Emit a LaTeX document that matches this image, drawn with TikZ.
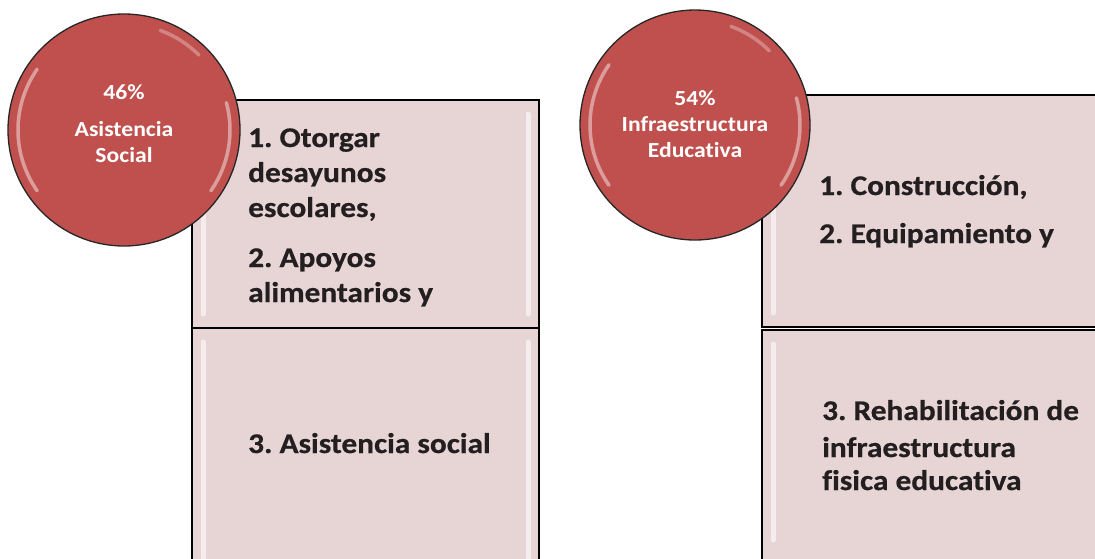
\documentclass[tikz,border=0pt]{standalone}
\usepackage{fontspec}
\setmainfont{Carlito}[BoldFont={Carlito Bold}, Ligatures=NoCommon, FakeStretch=1.1]
\frenchspacing
\definecolor{boxfill}{RGB}{231,212,212}
\definecolor{circfill}{RGB}{192,80,77}
\definecolor{txt}{RGB}{35,31,32}
\tikzset{
  panel/.style={draw=black, line width=1.3pt, fill=boxfill, rectangle, anchor=north west, inner sep=0pt, outer sep=0pt},
  bevel/.style={white, opacity=.6, line width=5pt, line cap=round},
  disc/.style={circle, draw=black!85, line width=1.3pt, fill=circfill, inner sep=0pt},
  gloss/.style={white, opacity=.45, line width=3.5pt, line cap=round},
  boxtext/.style={font=\bfseries\fontsize{28.5}{34}\selectfont\addfontfeature{FakeBold=0.6}, text=txt, anchor=base west, inner sep=0pt},
  disctext/.style={font=\bfseries\fontsize{21.5}{26}\selectfont, text=white, anchor=base, inner sep=0pt}
}
\begin{document}
\begin{tikzpicture}[x=1pt,y=-1pt]
\useasboundingbox (0,0) rectangle (1095,558);
\clip (0,0) rectangle (1095,558);
% panels
\node[panel, minimum width=347pt, minimum height=228pt] (b1) at (192,100) {};
\node[panel, minimum width=347pt, minimum height=250pt] (b2) at (192,328) {};
\node[panel, minimum width=365pt, minimum height=232pt] (b3) at (762,95) {};
\node[panel, minimum width=365pt, minimum height=250pt] (b4) at (762,330) {};
% bevels
\draw[bevel] ([shift={(11,14)}]b1.north west) -- ([shift={(11,-14)}]b1.south west);
\draw[bevel] ([shift={(-11,14)}]b1.north east) -- ([shift={(-11,-14)}]b1.south east);
\draw[bevel] ([shift={(11,14)}]b2.north west) -- ([shift={(11,230)}]b2.north west);
\draw[bevel] ([shift={(-11,14)}]b2.north east) -- ([shift={(-11,230)}]b2.north east);
\draw[bevel] ([shift={(11,14)}]b3.north west) -- ([shift={(11,-14)}]b3.south west);
\draw[bevel] ([shift={(11,14)}]b4.north west) -- ([shift={(11,210)}]b4.north west);
% circles
\node[disc, minimum size=232pt] (c1) at (124,130) {};
\node[disc, minimum size=230pt] (c2) at (695,125) {};
\draw[gloss] (c1.center) ++(145:106) arc[start angle=145, end angle=215, radius=106];
\draw[gloss] (c1.center) ++(-15:106) arc[start angle=-15, end angle=35, radius=106];
\draw[gloss, opacity=.3] (c1.center) ++(-70:106) arc[start angle=-70, end angle=-45, radius=106];
\draw[gloss] (c2.center) ++(145:105) arc[start angle=145, end angle=215, radius=105];
\draw[gloss] (c2.center) ++(-15:105) arc[start angle=-15, end angle=35, radius=105];
\draw[gloss, opacity=.3] (c2.center) ++(-70:105) arc[start angle=-70, end angle=-45, radius=105];
% circle texts
\node[disctext] (t1a) at (124,99) {46\%};
\node[disctext] (t1b) at (124,136) {Asistencia};
\node[disctext] (t1c) at (124,162) {Social};
\node[disctext] (t2a) at (695,105) {54\%};
\node[disctext] (t2b) at (695,131) {Infraestructura};
\node[disctext] (t2c) at (695,157) {Educativa};
% box texts
\node[boxtext] (l1) at (248,147) {1. Otorgar};
\node[boxtext] (l2) at (248,182) {desayunos};
\node[boxtext] (l3) at (248,217) {escolares,};
\node[boxtext] (l4) at (248,267) {2. Apoyos};
\node[boxtext] (l5) at (248,302) {alimentarios y};
\node[boxtext] (l6) at (248,453) {3. Asistencia social};
\node[boxtext] (r1) at (819,195) {1. Construcción,};
\node[boxtext] (r2) at (819,243) {2. Equipamiento y};
\node[boxtext] (r3) at (822,420) {3. Rehabilitación de};
\node[boxtext] (r4) at (822,457) {infraestructura};
\node[boxtext] (r5) at (822,490) {fisica educativa};
\end{tikzpicture}
\end{document}
